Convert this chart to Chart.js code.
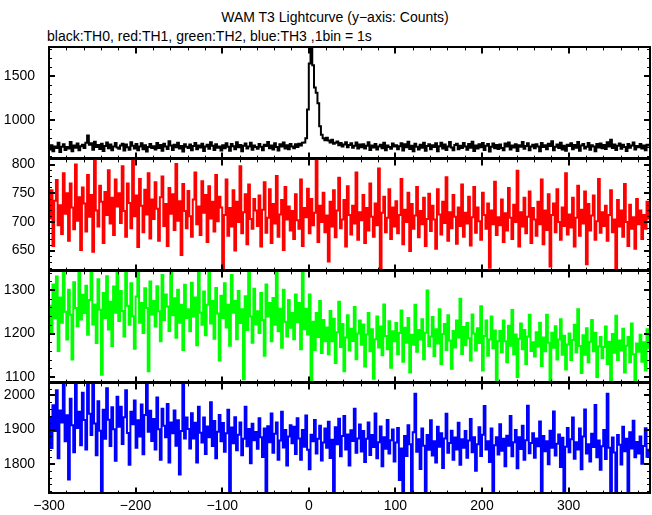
<!DOCTYPE html>
<html>
<head>
<meta charset="utf-8">
<title>WAM T3 Lightcurve</title>
<script src="https://cdn.jsdelivr.net/npm/chart.js@4.4.1/dist/chart.umd.min.js"></script>
<style>
    html, body { margin: 0; padding: 0; background: #ffffff; }
    #wrap { position: relative; width: 652px; height: 515px; overflow: hidden; font-family: "Liberation Sans", Arial, sans-serif; color: #000; }
    #wrap canvas { position: absolute; left: 0; }
    .lbl { position: absolute; font-size: 14px; line-height: 14px; white-space: nowrap; }
</style>
</head>
<body>
<div id="wrap">
    <div class="lbl" style="left:335px; top:10px; transform:translateX(-50%);">WAM T3 Lightcurve (y&#8722;axis: Counts)</div>
    <div class="lbl" style="left:47px; top:29px;">black:TH0, red:TH1, green:TH2, blue:TH3 ,1bin = 1s</div>
    <canvas id="panel-th0"></canvas>
    <canvas id="panel-th1"></canvas>
    <canvas id="panel-th2"></canvas>
    <canvas id="panel-th3"></canvas>
</div>
<script>
// Curvas de luz WAM T3 - 4 umbrales (TH0..TH3), bins de 2 s

const binStart = -300;
const binSize = 2;

// eje X: etiquetas mayores
const timeTicks = [-300, -200, -100, 0, 100, 200, 300];

// cuentas por umbral
const th0Counts = [
    669,718,648,703,686,746,641,700,729,663,698,680,753,650,713,688,736,659,706,723,
    687,744,826,722,738,667,757,698,721,675,733,653,707,749,683,725,661,702,741,692,
    676,714,734,657,726,695,665,750,710,680,730,660,704,738,672,717,646,698,731,686,
    706,669,742,687,719,654,734,702,675,761,714,664,723,694,746,679,709,645,729,700,
    686,725,659,707,741,673,715,691,733,653,703,722,677,752,710,663,727,688,704,657,
    718,682,738,699,656,730,706,673,750,694,721,649,710,737,679,702,744,667,714,698,
    676,731,700,661,723,709,754,684,713,669,740,696,657,727,704,748,680,717,672,730,
    704,682,727,696,734,715,744,748,795,1120,1640,1830,1620,1370,1310,1190,930,835,795,772,
    801,770,748,780,733,744,759,716,741,703,726,751,695,720,739,689,711,747,680,724,
    695,727,680,710,750,663,714,692,731,669,702,723,684,744,660,715,698,677,736,704,
    717,672,706,740,657,727,694,756,675,711,648,734,699,669,722,688,746,654,709,729,
    673,718,698,738,650,706,745,680,726,663,702,753,691,659,721,733,671,710,686,741,
    703,665,730,688,757,653,715,679,727,695,742,664,711,731,645,700,737,683,719,675,
    725,687,659,736,703,749,669,713,691,729,653,718,699,754,676,709,740,661,702,722,
    683,729,704,649,742,696,717,672,733,709,761,661,700,726,686,746,668,711,656,723,
    707,738,673,721,688,753,654,713,730,679,700,741,667,717,704,648,731,692,737,684,
    719,675,750,702,780,687,725,664,710,736,676,722,698,652,731,688,715,748,669,707,
    695,730,679,714,661,722,703
];
const th1Counts = [
    706,755,658,737,773,694,729,679,785,714,750,667,767,725,687,800,702,743,651,760,
    732,683,782,709,747,648,808,720,692,763,735,663,752,712,790,697,742,677,774,727,
    750,698,797,719,674,767,733,689,829,710,746,656,775,728,682,756,713,785,671,739,
    705,769,723,667,743,779,693,731,658,759,714,748,686,801,702,736,642,766,719,689,
    754,710,674,739,786,696,727,677,771,716,747,665,762,706,735,683,782,701,744,725,
    612,712,774,676,724,692,755,650,735,700,797,680,717,748,661,765,705,688,740,720,
    693,746,657,721,769,681,707,757,663,731,697,780,674,713,738,651,761,704,727,685,
    719,670,748,703,688,774,658,724,708,758,680,740,694,716,839,665,728,700,751,682,
    711,631,735,692,755,673,720,777,689,704,738,657,762,712,678,728,697,786,669,717,
    703,747,663,724,685,767,709,674,732,694,793,618,716,744,682,707,757,670,725,692,
    736,680,712,775,661,721,700,751,649,731,688,711,761,673,719,696,742,658,705,749,
    684,728,704,653,757,713,678,735,698,778,667,717,689,747,709,662,725,693,765,674,
    716,697,744,659,708,761,681,725,701,669,751,712,688,732,620,720,696,770,677,708,
    694,739,665,715,685,759,707,670,730,700,789,657,717,692,742,680,709,753,663,724,
    704,676,735,696,774,661,720,686,748,622,712,732,682,757,700,669,725,693,785,678,
    713,690,742,657,707,763,676,721,697,753,626,731,685,711,746,669,701,775,681,717,
    693,728,667,712,755,682,704,619,738,692,720,674,766,700,658,730,688,708,653,740,
    696,720,670,712,688,735,704
];
const th2Counts = [
    1264,1201,1313,1235,1331,1160,1283,1225,1343,1250,1186,1301,1243,1140,1318,1259,1217,1363,1232,1289,
    1247,1310,1197,1277,1350,1221,1267,1178,1325,1255,1105,1293,1236,1332,1209,1273,1171,1308,1248,1358,
    1229,1298,1252,1193,1340,1264,1220,1316,1240,1165,1285,1368,1225,1270,1201,1304,1259,1113,1320,1244,
    1275,1216,1309,1251,1182,1335,1231,1290,1262,1206,1367,1242,1281,1190,1301,1225,1266,1162,1312,1236,
    1256,1205,1317,1239,1283,1173,1345,1248,1220,1297,1196,1266,1363,1223,1275,1188,1305,1246,1138,1287,
    1236,1316,1214,1266,1172,1335,1248,1275,1187,1298,1224,1256,1095,1286,1208,1372,1239,1179,1303,1221,
    1251,1201,1293,1231,1149,1313,1239,1270,1182,1282,1220,1370,1205,1257,1167,1301,1227,1193,1277,1213,
    1247,1187,1290,1226,1270,1164,1367,1210,1257,1198,1290,1088,1227,1162,1247,1192,1275,1155,1231,1182,
    1214,1152,1252,1182,1234,1132,1203,1273,1169,1222,1113,1191,1242,1161,1211,1183,1261,1141,1200,1230,
    1174,1221,1124,1198,1247,1159,1210,1096,1187,1239,1168,1216,1150,1267,1194,1164,1228,1121,1205,1182,
    1224,1152,1201,1253,1135,1213,1179,1236,1110,1197,1174,1266,1158,1208,1186,1233,1141,1202,1299,1171,
    1193,1238,1148,1210,1177,1256,1130,1199,1222,1162,1242,1184,1119,1206,1168,1230,1191,1280,1153,1215,
    1173,1224,1189,1138,1244,1200,1161,1212,1178,1263,1115,1194,1230,1149,1186,1239,1166,1207,1092,1182,
    1206,1157,1230,1182,1134,1218,1172,1254,1152,1198,1100,1188,1223,1164,1208,1130,1193,1243,1160,1180,
    1147,1203,1170,1225,1125,1191,1159,1243,1179,1092,1202,1167,1217,1140,1186,1233,1151,1195,1117,1175,
    1200,1139,1185,1220,1157,1256,1171,1109,1196,1151,1212,1134,1181,1231,1159,1202,1100,1170,1192,1143,
    1169,1216,1130,1181,1090,1199,1156,1241,1139,1184,1161,1211,1110,1172,1192,1134,1223,1152,1090,1177,
    1158,1197,1135,1180,1115,1210,1165
];
const th3Counts = [
    1934,1846,1971,1896,2015,1816,1956,1921,2042,1866,1942,1754,1990,1913,1834,2069,1905,1952,1854,2008,
    1928,1842,2033,1946,1884,2071,1918,1825,1983,1897,1720,1958,1873,2021,1929,1852,1965,1901,1809,1996,
    1908,1967,1858,1936,2015,1890,1797,1952,1916,1985,1847,1927,1880,1973,1828,1943,2069,1894,1955,1867,
    1931,1842,1994,1901,1812,1961,1911,1878,1975,1804,1921,1889,1956,1853,1927,1769,1896,2075,1874,1935,
    1902,1845,1948,1874,1920,1804,1967,1891,1862,1935,1829,1909,1878,1980,1852,1925,1816,1894,1943,1866,
    1919,1835,1889,1958,1717,1906,1860,1936,1840,1885,1921,1825,1873,1967,1851,1902,1802,1917,1869,1893,
    1844,1933,1878,1820,1903,1720,1910,1863,1947,1832,1888,1921,1812,1868,1952,1848,1899,1795,1880,1913,
    1860,1908,1829,1933,1874,1812,1899,1850,1941,1841,1784,1885,1866,1928,1830,1873,1911,1810,1862,1903,
    1847,1923,1817,1870,1720,1907,1857,1932,1822,1881,1940,1842,1886,1795,1898,1867,1961,1832,1874,1915,
    1836,1896,1805,1873,1921,1826,1884,1849,1947,1816,1863,1909,1793,1878,1844,1928,1830,1869,1900,1807,
    1862,1905,1753,1845,1720,1881,1823,1913,1857,1718,1892,2005,1835,1872,1785,1903,1853,1718,1884,1841,
    1927,1824,1866,1804,1908,1850,1889,1788,1874,1946,1832,1861,1897,1812,1877,1842,1920,1797,1872,1847,
    1896,1818,1868,1931,1834,1878,1780,1857,1907,1823,1885,1969,1842,1866,1805,1903,1716,1854,1878,1827,
    1916,1838,1873,1793,1882,1853,1940,1822,1863,1899,1787,1878,1843,1911,1812,1869,1970,1831,1861,1889,
    1818,1874,1851,1924,1720,1881,1837,1866,1799,1897,1847,1953,1824,1859,1886,1791,1876,1718,1850,1905,
    1834,1872,1935,1815,1863,1842,1903,1784,1880,1959,1830,1857,1807,1888,1849,1972,1819,1868,1783,1851,
    1899,1814,2005,1847,1716,1877,1833,1720,1884,1856,1798,1908,1837,1873,1718,1892,1845,1926,1819,1864,
    1830,1880,1800,1852,1904,1821,1844
];

// eje Y: etiquetas mayores por panel
const th0Ticks = [1000, 1500];
const th1Ticks = [650, 700, 750, 800];
const th2Ticks = [1100, 1200, 1300];
const th3Ticks = [1800, 1900, 2000];

(function () {
    "use strict";

    const timeBins = th0Counts.map((_, i) => binStart + i * binSize);

    const X_MIN = -300, X_MAX = 394;
    const PLOT_LEFT = 49, PLOT_RIGHT = 650, PAD = 10, X_AXIS_H = 21;
    const FONT = { family: "'Liberation Sans', Arial, sans-serif", size: 14 };

    const panels = [
        { id: "panel-th0", counts: th0Counts, ticks: th0Ticks, minor: 100, color: "#000000", min: 566, max: 1822, top: 47, bottom: 159 },
        { id: "panel-th1", counts: th1Counts, ticks: th1Ticks, minor: 10, color: "#ff0000", min: 615, max: 809, top: 159, bottom: 271 },
        { id: "panel-th2", counts: th2Counts, ticks: th2Ticks, minor: 20, color: "#00ff00", min: 1087, max: 1343, top: 271, bottom: 383 },
        { id: "panel-th3", counts: th3Counts, ticks: th3Ticks, minor: 20, color: "#0000ff", min: 1713, max: 2035, top: 383, bottom: 494 }
    ];

    // marco + marcas de graduacion hacia dentro (estilo PGPLOT)
    function framePlugin(p) {
        return {
            id: "frame",
            afterDraw(chart) {
                const ctx = chart.ctx;
                const a = chart.chartArea;
                const xs = chart.scales.x, ys = chart.scales.y;
                ctx.save();
                ctx.strokeStyle = "#000";

                function tickX(v, len, w) {
                    const px = Math.round(xs.getPixelForValue(v)) + (w % 2 ? 0.5 : 0);
                    ctx.lineWidth = w;
                    ctx.beginPath();
                    ctx.moveTo(px, a.bottom); ctx.lineTo(px, a.bottom - len);
                    ctx.moveTo(px, a.top); ctx.lineTo(px, a.top + len);
                    ctx.stroke();
                }
                function tickY(v, len, w) {
                    const py = Math.round(ys.getPixelForValue(v)) + (w % 2 ? 0.5 : 0);
                    ctx.lineWidth = w;
                    ctx.beginPath();
                    ctx.moveTo(a.left, py); ctx.lineTo(a.left + len, py);
                    ctx.moveTo(a.right, py); ctx.lineTo(a.right - len, py);
                    ctx.stroke();
                }

                for (let v = -300; v < X_MAX; v += 20) {
                    if (v % 100 === 0) tickX(v, 6, 2); else tickX(v, 3, 1);
                }
                const first = Math.ceil(p.min / p.minor) * p.minor;
                for (let v = first; v <= p.max; v += p.minor) {
                    if (p.ticks.includes(v)) tickY(v, 6, 2); else tickY(v, 3, 1);
                }

                ctx.lineWidth = 2;
                ctx.strokeRect(Math.round(a.left), Math.round(a.top), Math.round(a.right - a.left), Math.round(a.bottom - a.top));
                ctx.restore();
            }
        };
    }

    function buildChart(canvas, p, isLast) {
        return new Chart(canvas, {
            type: "line",
            data: {
                datasets: [{
                    data: timeBins.map((t, i) => ({ x: t, y: p.counts[i] })),
                    borderColor: p.color,
                    borderWidth: 2,
                    pointRadius: 0,
                    stepped: true,
                    fill: false
                }]
            },
            options: {
                responsive: false,
                maintainAspectRatio: false,
                animation: false,
                events: [],
                layout: {
                    padding: { top: PAD, bottom: isLast ? 0 : PAD, left: 0, right: 652 - PLOT_RIGHT }
                },
                plugins: {
                    legend: { display: false },
                    tooltip: { enabled: false }
                },
                scales: {
                    x: {
                        type: "linear",
                        min: X_MIN,
                        max: X_MAX,
                        display: isLast,
                        grid: { display: false, drawTicks: false },
                        border: { display: false },
                        ticks: {
                            color: "#000",
                            font: FONT,
                            padding: 4,
                            autoSkip: false,
                            maxRotation: 0,
                            callback: v => String(v).replace("-", "\u2212")
                        },
                        afterBuildTicks: s => { s.ticks = timeTicks.map(v => ({ value: v })); },
                        afterFit: s => { s.height = isLast ? X_AXIS_H : 0; }
                    },
                    y: {
                        type: "linear",
                        min: p.min,
                        max: p.max,
                        grid: { display: false, drawTicks: false },
                        border: { display: false },
                        ticks: {
                            color: "#000",
                            font: FONT,
                            padding: 14,
                            autoSkip: false,
                            callback: v => String(v)
                        },
                        afterBuildTicks: s => { s.ticks = p.ticks.map(v => ({ value: v })); },
                        afterFit: s => { s.width = PLOT_LEFT; }
                    }
                }
            },
            plugins: [framePlugin(p)]
        });
    }

    panels.forEach((p, idx) => {
        const isLast = idx === panels.length - 1;
        const canvas = document.getElementById(p.id);
        const panelH = p.bottom - p.top;

        // primera pasada: medir cuanto espacio deja Chart.js alrededor del area
        canvas.width = 652;
        canvas.height = panelH + 2 * PAD + (isLast ? X_AXIS_H : 0);
        let chart = buildChart(canvas, p, isLast);
        const h0 = canvas.height;
        const ca = chart.chartArea;
        const extra = h0 - (ca.bottom - ca.top);
        chart.destroy();

        canvas.width = 652;
        canvas.height = panelH + extra;
        chart = buildChart(canvas, p, isLast);
        canvas.style.top = (p.top - chart.chartArea.top) + "px";
    });
})();
</script>
</body>
</html>
